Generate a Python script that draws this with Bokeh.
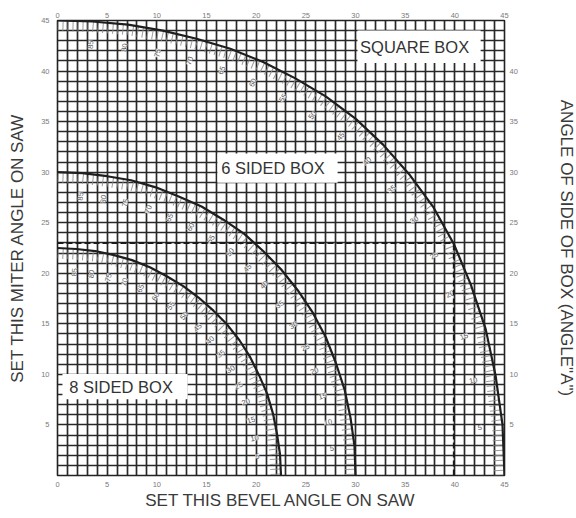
import numpy as np
from bokeh.plotting import figure
from bokeh.models import Range1d, LinearAxis, FixedTicker, ColumnDataSource
from bokeh.core.properties import value
from bokeh.embed import file_html
from bokeh.resources import INLINE

# angle of side of box (angle "A"), degrees
side_angle = [90, 85, 80, 75, 70, 65, 60, 55, 50, 45, 40, 35, 30, 25, 20, 15, 10, 5, 0]

# square box: bevel / miter at each angle A
square_bevel = [0.0, 3.5, 7.1, 10.6, 14.0, 17.4, 20.7, 23.9, 27.0, 30.0, 32.8, 35.4, 37.8, 39.9, 41.6, 43.1, 44.1, 44.8, 45.0]
square_miter = [45.0, 44.9, 44.6, 44.0, 43.2, 42.2, 40.9, 39.3, 37.5, 35.3, 32.7, 29.8, 26.6, 22.9, 18.9, 14.5, 9.9, 5.0, 0.0]

# 6 sided box
six_bevel = [0.0, 2.5, 5.0, 7.4, 9.9, 12.2, 14.5, 16.7, 18.8, 20.7, 22.5, 24.2, 25.7, 27.0, 28.0, 28.9, 29.5, 29.9, 30.0]
six_miter = [30.0, 29.9, 29.6, 29.2, 28.5, 27.6, 26.6, 25.3, 23.9, 22.2, 20.4, 18.3, 16.1, 13.7, 11.2, 8.5, 5.7, 2.9, 0.0]

# 8 sided box
eight_bevel = [0.0, 1.9, 3.8, 5.7, 7.5, 9.3, 11.0, 12.7, 14.2, 15.7, 17.1, 18.3, 19.4, 20.3, 21.1, 21.7, 22.1, 22.4, 22.5]
eight_miter = [22.5, 22.4, 22.2, 21.8, 21.3, 20.6, 19.7, 18.7, 17.6, 16.3, 14.9, 13.4, 11.7, 9.9, 8.1, 6.1, 4.1, 2.1, 0.0]

# worked example (dashed guide): A = 25 on the square box
example_bevel = 39.9
example_miter = 23.0

box_names = ["SQUARE BOX", "6 SIDED BOX", "8 SIDED BOX"]

bottom_ticks = [0, 5, 10, 15, 20, 25, 30, 35, 40, 45]
left_ticks = [5, 10, 15, 20, 25, 30, 35, 40, 45]
top_ticks = [0, 5, 10, 15, 20, 25, 30, 35, 40, 45]
right_ticks = [5, 10, 15, 20, 25, 30, 35, 40]

FONT = "Liberation Sans"

p = figure(frame_width=447, frame_height=455, output_backend="svg", toolbar_location=None,
           x_range=Range1d(0, 45), y_range=Range1d(0, 45),
           min_border_left=57, min_border_right=72, min_border_top=20, min_border_bottom=43)
p.background_fill_color = "white"
p.border_fill_color = "white"
p.outline_line_color = "#222222"
p.outline_line_width = 1.6

# grid every degree
for g in (p.xgrid, p.ygrid):
    g.ticker = FixedTicker(ticks=list(range(0, 46)))
    g.grid_line_color = "#282828"
    g.grid_line_width = 1.7
    g.grid_line_alpha = 1.0

def style_axis(ax, ticks, label=""):
    ax.ticker = FixedTicker(ticks=ticks)
    ax.axis_line_color = None
    ax.major_tick_line_color = None
    ax.minor_tick_line_color = None
    ax.major_tick_out = 0
    ax.major_tick_in = 0
    ax.major_label_text_font = FONT
    ax.major_label_text_font_size = "7.5px"
    ax.major_label_text_color = "#7a7a7a"
    ax.axis_label = label
    ax.axis_label_text_font = FONT
    ax.axis_label_text_font_size = "17px"
    ax.axis_label_text_font_style = "normal"
    ax.axis_label_text_color = "#3a3a3a"

style_axis(p.xaxis[0], bottom_ticks, "SET THIS BEVEL ANGLE ON SAW")
p.xaxis[0].major_label_standoff = 6
p.xaxis[0].axis_label_standoff = 1
style_axis(p.yaxis[0], left_ticks, "SET THIS MITER ANGLE ON SAW")
p.yaxis[0].major_label_standoff = 8
p.yaxis[0].axis_label_standoff = 11
top_axis = LinearAxis()
style_axis(top_axis, top_ticks)
top_axis.major_label_standoff = 3
p.add_layout(top_axis, "above")

right_axis = LinearAxis()
style_axis(right_axis, right_ticks, 'ANGLE OF SIDE OF BOX (ANGLE"A")')
right_axis.major_label_standoff = 5
right_axis.axis_label_standoff = 36
p.add_layout(right_axis, "right")

# label boxes (white patches over the grid)
box_x = [36.4, 22.15, 6.8]
box_y = [42.4, 30.4, 8.8]
box_w = [12.4, 12.1, 12.6]
box_h = [3.2, 2.9, 2.5]
text_x = [35.95, 21.7, 6.4]
p.rect(x=box_x, y=box_y, width=box_w, height=box_h, fill_color="white", line_color=None)

curves = [(square_bevel, square_miter), (six_bevel, six_miter), (eight_bevel, eight_miter)]

for bev, mit in curves:
    b = np.array(bev, dtype=float)
    m = np.array(mit, dtype=float)
    r = np.hypot(b, m)
    ux, uy = b / r, m / r
    # hatch band on inside of curve
    p.line(b - 0.55 * ux, m - 0.55 * uy, line_color="#8a8a8a", line_width=10,
           line_dash="1 4", line_alpha=0.85, line_cap="butt")
    # angle labels
    hb, hm = b[1:-1] - 2.3 * ux[1:-1], m[1:-1] - 2.3 * uy[1:-1]
    ang = np.arctan2(m[1:-1], b[1:-1])
    src = ColumnDataSource(dict(x=hb, y=hm, t=[str(a) for a in side_angle[1:-1]], a=ang))
    p.text(x="x", y="y", text="t", angle="a", source=src, text_font=value(FONT),
           text_font_size="7.5px", text_color="#555555", text_align="center",
           text_baseline="middle", background_fill_color="white", background_fill_alpha=0.8)
    p.line(b, m, line_color="#1e1e1e", line_width=2.2)

# dashed example guide
p.line([0, example_bevel], [example_miter, example_miter], line_color="#1a1a1a",
       line_width=2, line_dash="6 3")
p.line([example_bevel, example_bevel], [0, example_miter], line_color="#1a1a1a",
       line_width=2, line_dash="6 3")

p.text(x=text_x, y=box_y, text=box_names, text_font=value(FONT), text_font_size="16.5px",
       text_color="#333333", text_align="center", text_baseline="middle")

open("out.html", "w").write(file_html(p, INLINE))
